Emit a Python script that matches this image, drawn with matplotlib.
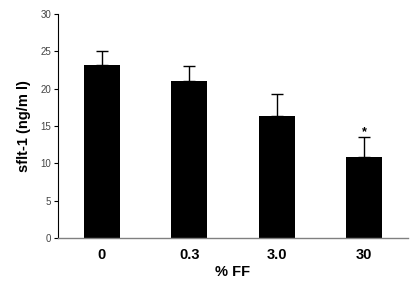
import matplotlib
matplotlib.use("Agg")
import matplotlib.pyplot as plt

categories = ["0", "0.3", "3.0", "30"]
values = [23.2, 21.0, 16.4, 10.9]
errors = [1.8, 2.0, 2.9, 2.6]
yticks = [0, 5, 10, 15, 20, 25, 30]

plt.rcParams['font.family'] = ['Liberation Sans', 'DejaVu Sans']

fig = plt.figure(figsize=(4.18, 2.91), dpi=100)
ax = fig.add_axes([0.139, 0.182, 0.837, 0.770])
x = range(len(categories))
ax.bar(x, values, width=0.41, color='black', zorder=2)
ax.errorbar(x, values, yerr=[[0]*len(errors), errors], fmt='none', ecolor='black',
            elinewidth=1, capsize=4, capthick=1, zorder=3)
ax.text(3, values[3] + errors[3] - 0.1, "*", ha='center', va='bottom', fontsize=9, fontweight='bold')

ax.set_xlim(-0.5, 3.5)
ax.set_ylim(0, 30)
ax.set_yticks(yticks)
ax.set_xticks(list(x))
ax.set_xticklabels(categories, fontsize=10.5, fontweight='bold')
ax.tick_params(axis='x', length=0, pad=7)
ax.tick_params(axis='y', length=3, width=0.8, labelsize=7, labelcolor='#444444', pad=2, direction='out')
for s in ['top', 'right']:
    ax.spines[s].set_visible(False)
ax.spines['left'].set_color('black')
ax.spines['left'].set_linewidth(0.8)
ax.spines['bottom'].set_color('#808080')
ax.spines['bottom'].set_linewidth(1)
ax.set_xlabel("% FF", fontsize=10.5, fontweight='bold', labelpad=2)
ax.set_ylabel("sflt-1 (ng/m l)", fontsize=10.5, fontweight='bold', labelpad=7)

fig.savefig("out.png", dpi=100)
